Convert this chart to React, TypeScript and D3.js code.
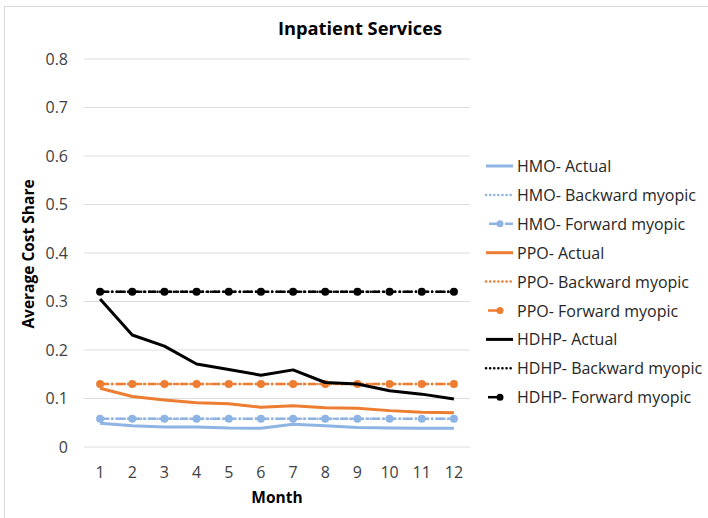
import React from "react";
import * as d3 from "d3";

const months = ["1", "2", "3", "4", "5", "6", "7", "8", "9", "10", "11", "12"];
const yTicks = [0, 0.1, 0.2, 0.3, 0.4, 0.5, 0.6, 0.7, 0.8];

const hmoActual = [0.049, 0.044, 0.041, 0.041, 0.039, 0.0385, 0.047, 0.044, 0.040, 0.039, 0.0385, 0.0385];
const hmoBackward = [0.058, 0.058, 0.058, 0.058, 0.058, 0.058, 0.058, 0.058, 0.058, 0.058, 0.058, 0.058];
const hmoForward = [0.058, 0.058, 0.058, 0.058, 0.058, 0.058, 0.058, 0.058, 0.058, 0.058, 0.058, 0.058];
const ppoActual = [0.121, 0.104, 0.097, 0.091, 0.089, 0.082, 0.085, 0.081, 0.080, 0.075, 0.0715, 0.0705];
const ppoBackward = [0.13, 0.13, 0.13, 0.13, 0.13, 0.13, 0.13, 0.13, 0.13, 0.13, 0.13, 0.13];
const ppoForward = [0.13, 0.13, 0.13, 0.13, 0.13, 0.13, 0.13, 0.13, 0.13, 0.13, 0.13, 0.13];
const hdhpActual = [0.305, 0.231, 0.208, 0.171, 0.160, 0.148, 0.159, 0.133, 0.130, 0.116, 0.109, 0.099];
const hdhpBackward = [0.32, 0.32, 0.32, 0.32, 0.32, 0.32, 0.32, 0.32, 0.32, 0.32, 0.32, 0.32];
const hdhpForward = [0.32, 0.32, 0.32, 0.32, 0.32, 0.32, 0.32, 0.32, 0.32, 0.32, 0.32, 0.32];

const seriesNames = [
  "HMO- Actual",
  "HMO- Backward myopic",
  "HMO- Forward myopic",
  "PPO- Actual",
  "PPO- Backward myopic",
  "PPO- Forward myopic",
  "HDHP- Actual",
  "HDHP- Backward myopic",
  "HDHP- Forward myopic",
];

const BLUE = "#8eb4e3";
const ORANGE = "#ed7d31";
const BLACK = "#000000";

type Kind = "actual" | "backward" | "forward";
const series: { name: string; values: number[]; color: string; kind: Kind }[] = [
  { name: seriesNames[0], values: hmoActual, color: BLUE, kind: "actual" },
  { name: seriesNames[1], values: hmoBackward, color: BLUE, kind: "backward" },
  { name: seriesNames[2], values: hmoForward, color: BLUE, kind: "forward" },
  { name: seriesNames[3], values: ppoActual, color: ORANGE, kind: "actual" },
  { name: seriesNames[4], values: ppoBackward, color: ORANGE, kind: "backward" },
  { name: seriesNames[5], values: ppoForward, color: ORANGE, kind: "forward" },
  { name: seriesNames[6], values: hdhpActual, color: BLACK, kind: "actual" },
  { name: seriesNames[7], values: hdhpBackward, color: BLACK, kind: "backward" },
  { name: seriesNames[8], values: hdhpForward, color: BLACK, kind: "forward" },
];

const FONT = "'Open Sans', 'Liberation Sans', sans-serif";

export default function App() {
  const W = 708;
  const H = 518;
  const plotLeft = 84;
  const plotRight = 470;
  const plotTop = 59;
  const plotBottom = 447;

  const x = d3.scaleBand<string>().domain(months).range([plotLeft, plotRight]);
  const y = d3.scaleLinear().domain([0, 0.8]).range([plotBottom, plotTop]);
  const cx = (m: string) => (x(m) as number) + x.bandwidth() / 2;

  const line = d3
    .line<number>()
    .x((_, i) => cx(months[i]))
    .y((d) => y(d));

  const styleFor = (kind: Kind) => {
    if (kind === "actual") return { width: 3, dash: undefined as string | undefined, cap: "butt" };
    if (kind === "backward") return { width: 2.5, dash: "0.1 4", cap: "round" };
    return { width: 2.5, dash: "8 3 2 3", cap: "butt" };
  };

  const legendX = 486;
  const legendY0 = 166;
  const legendStep = 28.9;

  return (
    <svg
      width={W}
      height={H}
      style={{ position: "absolute", left: 0, top: 0, background: "#fff" }}
      fontFamily={FONT}
    >
      <rect x={4.5} y={6.5} width={W + 10} height={H + 10} fill="#fff" stroke="#d9d9d9" strokeWidth={1} />
      <text x={360} y={35} textAnchor="middle" fontSize={18.3} fontWeight="bold" fill="#000">
        Inpatient Services
      </text>

      {yTicks.map((t) => (
        <g key={t}>
          <line x1={plotLeft} x2={plotRight} y1={y(t)} y2={y(t)} stroke="#dcdcdc" strokeWidth={1} />
          <text x={68} y={y(t) + 5.5} textAnchor="end" fontSize={16} fill="#404040">
            {String(t)}
          </text>
        </g>
      ))}

      {months.map((m) => (
        <text key={m} x={cx(m)} y={478} textAnchor="middle" fontSize={16} fill="#404040">
          {m}
        </text>
      ))}

      <text x={277} y={503} textAnchor="middle" fontSize={15.5} fontWeight="bold" fill="#000">
        Month
      </text>
      <text
        transform={`translate(34, ${254}) rotate(-90)`}
        textAnchor="middle"
        fontSize={15.5}
        fontWeight="bold"
        fill="#000"
      >
        Average Cost Share
      </text>

      {series.map((s) => {
        const st = styleFor(s.kind);
        return (
          <g key={s.name}>
            <path
              d={line(s.values) || ""}
              fill="none"
              stroke={s.color}
              strokeWidth={st.width}
              strokeDasharray={st.dash}
              strokeLinecap={st.cap as any}
              strokeLinejoin="round"
            />
            {s.kind === "forward" &&
              s.values.map((v, i) => (
                <circle key={i} cx={cx(months[i])} cy={y(v)} r={4} fill={s.color} />
              ))}
          </g>
        );
      })}

      {series.map((s, i) => {
        const st = styleFor(s.kind);
        const ly = legendY0 + i * legendStep;
        const isHmoFwd = s.kind === "forward" && s.color === BLUE;
        return (
          <g key={"lg" + s.name}>
            {s.kind === "forward" ? (
              isHmoFwd ? (
                <>
                  <line x1={legendX} x2={513} y1={ly} y2={ly} stroke={s.color} strokeWidth={2.5} strokeDasharray="8 3 2 3" strokeDashoffset={-3} />
                  <circle cx={500} cy={ly} r={3.5} fill={s.color} />
                </>
              ) : (
                <>
                  <line x1={488} x2={500} y1={ly} y2={ly} stroke={s.color} strokeWidth={2.5} />
                  <circle cx={500} cy={ly} r={3.5} fill={s.color} />
                </>
              )
            ) : (
              <line
                x1={legendX}
                x2={513}
                y1={ly}
                y2={ly}
                stroke={s.color}
                strokeWidth={st.width}
                strokeDasharray={st.dash}
                strokeLinecap={st.cap as any}
              />
            )}
            <text x={517} y={ly + 6} fontSize={16} fill="#262626">
              {s.name}
            </text>
          </g>
        );
      })}
    </svg>
  );
}
